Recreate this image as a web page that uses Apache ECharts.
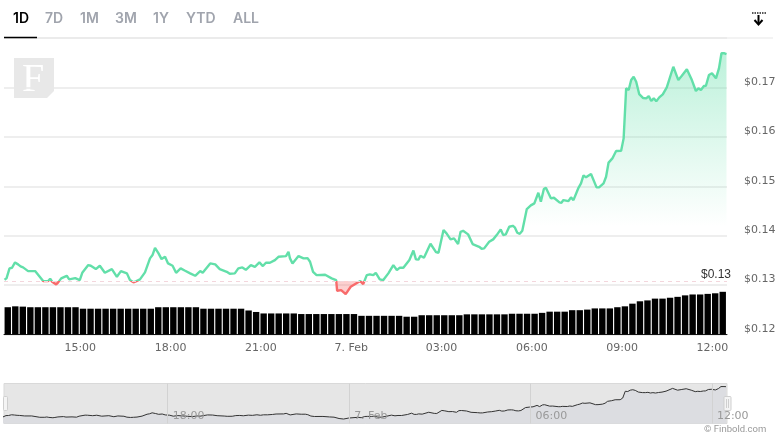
<!DOCTYPE html>
<html>
<head>
<meta charset="utf-8">
<title>Price chart</title>
<script src="https://cdn.jsdelivr.net/npm/echarts@6/dist/echarts.min.js"></script>
<style>
    html, body { margin: 0; padding: 0; background: #fff; }
    #main { width: 780px; height: 440px; }
</style>
</head>
<body>
<div id="main"></div>
<script>
// minutes are counted from 00:00 on 6 Feb
const startMinute = 748
const priceMinutes = [
    1, 5, 11, 16, 22, 28, 33, 38, 48, 62, 78, 88, 92, 96, 104, 108, 114, 125, 130, 142,
    151, 156, 159, 168, 173, 183, 191, 201, 215, 225, 233, 245, 251, 254, 258, 261, 264, 271, 281, 291,
    296, 301, 308, 314, 321, 327, 336, 343, 352, 361, 371, 381, 391, 396, 411, 421, 430, 444, 450, 460,
    467, 475, 482, 492, 500, 509, 516, 522, 530, 540, 547, 562, 567, 570, 575, 587, 597, 605, 610, 616,
    623, 640, 653, 662, 664, 672, 681, 691, 710, 716, 723, 729, 736, 741, 749, 756, 766, 776, 783, 789,
    796, 808, 816, 821, 826, 830, 837, 850, 861, 866, 876, 882, 890, 897, 905, 910, 915, 925, 934, 947,
    952, 957, 967, 975, 982, 990, 995, 1000, 1007, 1014, 1018, 1023, 1028, 1033, 1042, 1050, 1057, 1065, 1070, 1076,
    1080, 1090, 1096, 1107, 1111, 1115, 1125, 1130, 1135, 1145, 1150, 1155, 1160, 1170, 1181, 1186, 1195, 1200, 1205, 1213,
    1220, 1230, 1235, 1240, 1245, 1250, 1255, 1260, 1266, 1274, 1280, 1285, 1290, 1295, 1300, 1306, 1313, 1321, 1324, 1334,
    1344, 1351, 1354, 1361, 1364, 1371, 1379, 1384, 1389, 1395, 1399, 1405, 1411, 1419, 1425, 1430, 1436, 1440
]
const prices = [
    0.13107, 0.13136, 0.13338, 0.1335, 0.13459, 0.13419, 0.13378, 0.13358, 0.13283, 0.13283, 0.13081, 0.13081, 0.13128, 0.13067, 0.13014, 0.13055, 0.13136, 0.13188, 0.13115, 0.13142,
    0.13101, 0.13249, 0.13257, 0.13405, 0.13391, 0.13324, 0.13391, 0.13249, 0.13324, 0.13168, 0.13283, 0.13237, 0.13101, 0.13115, 0.13055, 0.13055, 0.13081, 0.13115, 0.13257, 0.1354,
    0.13607, 0.13755, 0.13642, 0.13526, 0.13573, 0.13439, 0.13391, 0.13249, 0.13338, 0.13289, 0.13237, 0.13188, 0.13283, 0.13249, 0.13439, 0.13419, 0.13324, 0.13269, 0.13229, 0.13237,
    0.13338, 0.13358, 0.1331, 0.13405, 0.1337, 0.13459, 0.13385, 0.13451, 0.13451, 0.13506, 0.13573, 0.13587, 0.13674, 0.1354, 0.13439, 0.13587, 0.1354, 0.13546, 0.13472, 0.13269,
    0.13202, 0.13208, 0.13136, 0.13101, 0.12885, 0.12899, 0.12818, 0.12966, 0.13081, 0.1302, 0.13202, 0.13217, 0.13202, 0.13249, 0.13115, 0.13101, 0.13237, 0.13405, 0.13304, 0.13354,
    0.1335, 0.13506, 0.13698, 0.1352, 0.13516, 0.13593, 0.13553, 0.13836, 0.13668, 0.13654, 0.14113, 0.14046, 0.13925, 0.13945, 0.1383, 0.14079, 0.14099, 0.14026, 0.1383, 0.13775,
    0.13735, 0.13743, 0.13876, 0.13925, 0.14012, 0.14127, 0.14012, 0.14026, 0.1418, 0.142, 0.14168, 0.14059, 0.14038, 0.14099, 0.14538, 0.14613, 0.14654, 0.14868, 0.14686, 0.14943,
    0.14969, 0.14755, 0.14767, 0.14674, 0.14666, 0.1472, 0.147, 0.14775, 0.1472, 0.14969, 0.15058, 0.1522, 0.1518, 0.15247, 0.14977, 0.14977, 0.15058, 0.15192, 0.15479, 0.1557,
    0.15712, 0.15718, 0.15969, 0.16981, 0.16947, 0.17149, 0.17216, 0.17115, 0.16866, 0.16785, 0.16779, 0.16825, 0.16724, 0.16779, 0.16718, 0.16799, 0.1686, 0.17001, 0.17014, 0.17418,
    0.17149, 0.17236, 0.17236, 0.17366, 0.17372, 0.17149, 0.16927, 0.16981, 0.16947, 0.17028, 0.17034, 0.1725, 0.17285, 0.17184, 0.17386, 0.1769, 0.1769, 0.17675
]
// one bar every 15 minutes
const volumes = [
    92, 95, 94, 92, 92, 92, 92, 92, 92, 92,
    87, 87, 87, 87, 87, 87, 87, 87, 87, 87,
    92, 92, 92, 92, 92, 92, 87, 87, 87, 87,
    87, 87, 81, 76, 71, 71, 71, 71, 71, 69,
    69, 69, 69, 69, 69, 69, 69, 63, 63, 63,
    63, 63, 63, 60, 60, 65, 65, 65, 65, 65,
    65, 68, 68, 68, 68, 68, 68, 70, 70, 70,
    70, 73, 77, 77, 77, 82, 82, 84, 88, 88,
    88, 92, 95, 104, 112, 115, 121, 121, 124, 127,
    132, 135, 135, 137, 139, 144
]
const threshold = 0.13087
const priceTicks = [15, 18, 21, 24, 27, 30, 33, 36].map(h => h * 60)
const priceTickLabels = ['15:00', '18:00', '21:00', '7. Feb', '03:00', '06:00', '09:00', '12:00']
const navTicks = [18, 24, 30, 36].map(h => h * 60)
const navTickLabels = ['18:00', '7. Feb', '06:00', '12:00']
const tabLabels = ['1D', '7D', '1M', '3M', '1Y', 'YTD', 'ALL']
const tabLeft = [13, 45, 80, 115, 153, 186, 233]

const green = '#62dfa9'
const red = '#f86b6b'
const labelFont = '"DejaVu Sans"'

const priceData = prices.map((p, i) => [startMinute + priceMinutes[i], p])
const volumeData = volumes.map((v, i) => [startMinute + 7.5 + i * 15, v])

var myChart = echarts.init(document.getElementById('main'))

const tabs = tabLabels.map((t, i) => ({
    type: 'text',
    x: tabLeft[i],
    y: 12,
    style: {
        text: t,
        font: '600 14px Inter',
        fill: i === 0 ? '#000' : '#a0a4ad'
    }
}))

const handle = (left, width) => ({
    type: 'rect',
    z: 20,
    shape: { x: left, y: 396.5, width: width, height: 14, r: 1 },
    style: { fill: '#f4f4f4', stroke: '#cfcfcf', lineWidth: 1 }
})

var option = {
    animation: false,
    backgroundColor: '#fff',
    grid: [
        { left: 4, right: 53, top: 38, bottom: 105.5 },
        { left: 4, right: 53, top: 383.5, bottom: 16.5, show: true, backgroundColor: '#e6e6e6', borderColor: '#d9d9d9', borderWidth: 1 }
    ],
    xAxis: [
        {
            type: 'value',
            gridIndex: 0,
            min: startMinute,
            max: startMinute + 1441,
            splitLine: { show: false },
            axisLine: { lineStyle: { color: '#1a1a1a', width: 1 } },
            axisTick: { show: false },
            axisLabel: {
                customValues: priceTicks,
                formatter: v => priceTickLabels[priceTicks.indexOf(v)],
                color: '#666',
                fontFamily: labelFont,
                fontSize: 11,
                margin: 8,
                hideOverlap: false
            }
        },
        {
            type: 'value',
            gridIndex: 1,
            z: 10,
            min: 755,
            max: 2190,
            axisLine: { show: false },
            axisTick: { show: false, customValues: navTicks },
            splitLine: { show: true, lineStyle: { color: '#d2d2d2', width: 1 } },
            axisLabel: {
                inside: true,
                customValues: navTicks,
                formatter: v => navTickLabels[navTicks.indexOf(v)],
                color: '#999',
                fontFamily: labelFont,
                fontSize: 11,
                margin: 2,
                align: 'left',
                padding: [0, 0, 0, 5],
                hideOverlap: false
            }
        }
    ],
    yAxis: [
        {
            type: 'value',
            gridIndex: 0,
            position: 'right',
            min: 0.12,
            max: 0.18,
            interval: 0.01,
            axisLine: { show: false },
            axisTick: { show: false },
            splitLine: { lineStyle: { color: '#e9e9e9', width: 1.5 } },
            axisLabel: {
                formatter: v => '$' + v.toFixed(2),
                color: '#666',
                fontFamily: labelFont,
                fontSize: 11,
                margin: 17,
                verticalAlign: 'bottom',
                showMaxLabel: false,
                showMinLabel: true,
                hideOverlap: false
            }
        },
        // volume bars take the bottom part of the price grid
        { type: 'value', gridIndex: 0, min: 0, max: 1000, show: false, splitLine: { show: false } },
        { type: 'value', gridIndex: 1, min: 0.1215, max: 0.1815, show: false, splitLine: { show: false } }
    ],
    visualMap: {
        show: false,
        type: 'piecewise',
        seriesIndex: 0,
        dimension: 1,
        // both pieces need finite ends or the gradient has no stops
        pieces: [
            { gte: 0.12, lte: threshold, color: red },
            { gt: threshold, lte: 0.18, color: green }
        ]
    },
    series: [
        {
            name: 'Price',
            type: 'line',
            xAxisIndex: 0,
            yAxisIndex: 0,
            data: priceData,
            showSymbol: false,
            lineStyle: { width: 2.4 },
            areaStyle: {
                origin: threshold,
                opacity: 1,
                color: new echarts.graphic.LinearGradient(0, 0, 0, 1, [
                    { offset: 0, color: 'rgba(98,223,169,0.42)' },
                    { offset: 0.72, color: 'rgba(98,223,169,0)' },
                    { offset: 0.944, color: 'rgba(98,223,169,0)' },
                    { offset: 0.945, color: 'rgba(248,107,107,0.32)' },
                    { offset: 1, color: 'rgba(248,107,107,0.32)' }
                ])
            },
            markLine: {
                silent: true,
                symbol: 'none',
                precision: 5,
                data: [{ yAxis: threshold }],
                lineStyle: { color: '#f3d6dc', type: [4, 4], width: 1 },
                label: {
                    position: 'insideEndTop',
                    formatter: '$0.13',
                    color: '#333',
                    fontFamily: 'Liberation Sans',
                    fontSize: 12,
                    distance: [-4, 0]
                }
            }
        },
        {
            name: 'Volume',
            type: 'bar',
            xAxisIndex: 0,
            yAxisIndex: 1,
            data: volumeData,
            barWidth: 6.4,
            itemStyle: { color: '#000' }
        },
        {
            name: 'Navigator',
            type: 'line',
            xAxisIndex: 1,
            yAxisIndex: 2,
            data: priceData,
            showSymbol: false,
            lineStyle: { color: '#333', width: 1 },
            areaStyle: { color: '#dcdde1', opacity: 1 }
        }
    ],
    graphic: [
        ...tabs,
        // active tab underline and the rule under the tabs
        { type: 'line', shape: { x1: 4, y1: 38, x2: 773, y2: 38 }, style: { stroke: '#efefef', lineWidth: 1.5 } },
        { type: 'line', z: 5, shape: { x1: 4, y1: 37.5, x2: 37, y2: 37.5 }, style: { stroke: '#000', lineWidth: 1.5 } },
        // logo
        {
            type: 'polygon',
            z: -1,
            shape: { points: [[14, 58], [54, 58], [54, 91], [47, 98], [14, 98]] },
            style: { fill: '#e8e8e8' }
        },
        {
            type: 'text',
            z: -1,
            x: 22,
            y: 60,
            style: { text: 'F', font: '40px "Liberation Serif"', fill: '#fff' }
        },
        // download icon
        { type: 'line', shape: { x1: 752, y1: 13, x2: 766, y2: 13 }, style: { stroke: '#222', lineWidth: 1.5, lineDash: [1.5, 1] } },
        { type: 'line', shape: { x1: 758.5, y1: 15, x2: 758.5, y2: 24 }, style: { stroke: '#000', lineWidth: 2 } },
        { type: 'polyline', shape: { points: [[754.5, 20], [758.5, 24.5], [762.5, 20]] }, style: { stroke: '#000', lineWidth: 2, fill: 'none' } },
        // navigator handles
        handle(3.5, 4),
        handle(724, 7),
        { type: 'line', z: 21, shape: { x1: 726.5, y1: 399, x2: 726.5, y2: 408 }, style: { stroke: '#cfcfcf', lineWidth: 1 } },
        { type: 'line', z: 21, shape: { x1: 728.5, y1: 399, x2: 728.5, y2: 408 }, style: { stroke: '#cfcfcf', lineWidth: 1 } },
        {
            type: 'text',
            x: 704,
            y: 425,
            style: { text: '© Finbold.com', font: '9.5px Roboto', fill: '#999' }
        }
    ]
}

myChart.setOption(option)
</script>
</body>
</html>
